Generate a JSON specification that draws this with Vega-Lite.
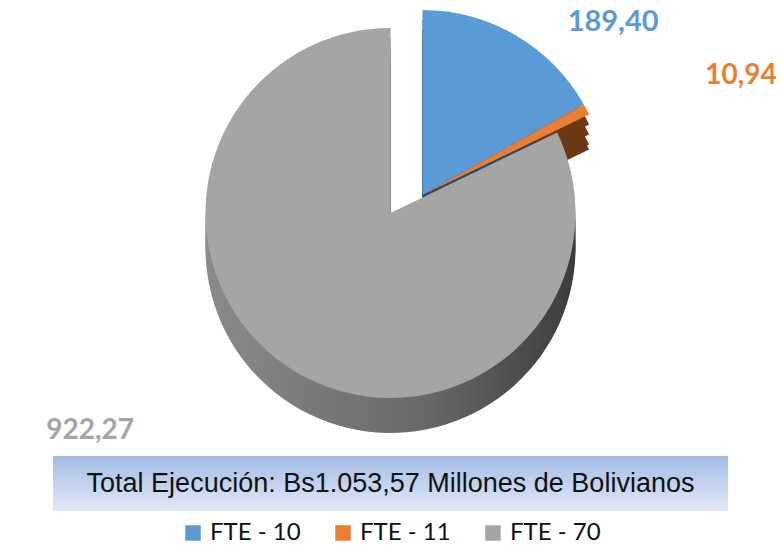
{
  "$schema": "https://vega.github.io/schema/vega-lite/v6.json",
  "padding": 0,
  "spacing": 6,
  "center": true,
  "config": {
    "view": {"stroke": null},
    "locale": {"number": {"decimal": ",", "thousands": ".", "grouping": [3], "currency": ["", ""]}},
    "legend": {"orient": "bottom", "layout": {"bottom": {"anchor": "middle"}}, "labelFont": "Lato", "labelFontSize": 24, "labelColor": "#111111", "symbolType": "square", "symbolSize": 240, "symbolStrokeWidth": 0, "columnPadding": 30, "labelOffset": 5, "offset": 10, "title": null}
  },
  "datasets": {
    "fuentes": [
      {"fuente": "FTE - 10", "valor": 189.40},
      {"fuente": "FTE - 11", "valor": 10.94},
      {"fuente": "FTE - 70", "valor": 922.27}
    ]
  },
  "vconcat": [
    {
      "width": 781,
      "height": 450,
      "data": {"name": "fuentes"},
      "encoding": {
        "theta": {"field": "valor", "type": "quantitative", "stack": true},
        "order": {"field": "fuente", "type": "nominal", "sort": "ascending"}
      },
      "layer": [
        {"mark": {"type": "arc", "radius": 185, "xOffset": 32, "yOffset": 5},
         "encoding": {"fill": {"condition": {"test": "datum.fuente === 'FTE - 10'", "value": "#2b4a6e"}, "value": "#6e3815"},
                      "opacity": {"condition": {"test": "datum.fuente === 'FTE - 70'", "value": 0}, "value": 1}}},
        {"mark": {"type": "arc", "radius": 185, "xOffset": 32, "yOffset": 0},
         "encoding": {"fill": {"condition": {"test": "datum.fuente === 'FTE - 10'", "value": "#2b4a6e"}, "value": "#6e3815"},
                      "opacity": {"condition": {"test": "datum.fuente === 'FTE - 70'", "value": 0}, "value": 1}}},
        {"mark": {"type": "arc", "radius": 185, "xOffset": 32, "yOffset": -10},
         "encoding": {"fill": {"condition": {"test": "datum.fuente === 'FTE - 10'", "value": "#2b4a6e"}, "value": "#6e3815"},
                      "opacity": {"condition": {"test": "datum.fuente === 'FTE - 70'", "value": 0}, "value": 1}}},
        {"mark": {"type": "arc", "radius": 185, "xOffset": 32, "yOffset": -20},
         "encoding": {"fill": {"condition": {"test": "datum.fuente === 'FTE - 10'", "value": "#2b4a6e"}, "value": "#6e3815"},
                      "opacity": {"condition": {"test": "datum.fuente === 'FTE - 70'", "value": 0}, "value": 1}}},
        {"mark": {"type": "arc", "radius": 185, "xOffset": 32, "yOffset": -30},
         "encoding": {
           "color": {"field": "fuente", "type": "nominal", "scale": {"domain": ["FTE - 10", "FTE - 11", "FTE - 70"], "range": ["#5b9bd5", "#ed7d31", "#a5a5a5"]}},
           "opacity": {"condition": {"test": "datum.fuente === 'FTE - 70'", "value": 0}, "value": 1}}},
        {"mark": {"type": "arc", "radius": 185, "yOffset": 23, "fill": {"gradient": "linear", "x1": 0, "y1": 0, "x2": 1, "y2": 0, "stops": [{"offset": 0, "color": "#8a8a8a"}, {"offset": 0.6, "color": "#686868"}, {"offset": 1, "color": "#3c3c3c"}]}},
         "encoding": {"opacity": {"condition": {"test": "datum.fuente === 'FTE - 70'", "value": 1}, "value": 0}}},
        {"mark": {"type": "arc", "radius": 185, "yOffset": 18, "fill": {"gradient": "linear", "x1": 0, "y1": 0, "x2": 1, "y2": 0, "stops": [{"offset": 0, "color": "#8a8a8a"}, {"offset": 0.6, "color": "#686868"}, {"offset": 1, "color": "#3c3c3c"}]}},
         "encoding": {"opacity": {"condition": {"test": "datum.fuente === 'FTE - 70'", "value": 1}, "value": 0}}},
        {"mark": {"type": "arc", "radius": 185, "yOffset": 8, "fill": {"gradient": "linear", "x1": 0, "y1": 0, "x2": 1, "y2": 0, "stops": [{"offset": 0, "color": "#8a8a8a"}, {"offset": 0.6, "color": "#686868"}, {"offset": 1, "color": "#3c3c3c"}]}},
         "encoding": {"opacity": {"condition": {"test": "datum.fuente === 'FTE - 70'", "value": 1}, "value": 0}}},
        {"mark": {"type": "arc", "radius": 185, "yOffset": -2, "fill": {"gradient": "linear", "x1": 0, "y1": 0, "x2": 1, "y2": 0, "stops": [{"offset": 0, "color": "#8a8a8a"}, {"offset": 0.6, "color": "#686868"}, {"offset": 1, "color": "#3c3c3c"}]}},
         "encoding": {"opacity": {"condition": {"test": "datum.fuente === 'FTE - 70'", "value": 1}, "value": 0}}},
        {"mark": {"type": "arc", "radius": 185, "yOffset": -12, "fill": "#a5a5a5"},
         "encoding": {"opacity": {"condition": {"test": "datum.fuente === 'FTE - 70'", "value": 1}, "value": 0}}},
        {"mark": {"type": "text", "radius": 195, "xOffset": 32, "yOffset": -30, "dx": 92, "dy": -5, "fontSize": 29, "fontWeight": "bold", "font": "Lato", "fill": "#5b9bd5"},
         "encoding": {"text": {"field": "valor", "type": "quantitative", "format": ",.2f"},
                      "opacity": {"condition": {"test": "datum.fuente === 'FTE - 10'", "value": 1}, "value": 0}}},
        {"mark": {"type": "text", "radius": 120, "xOffset": 32, "yOffset": -30, "dx": 212, "dy": -64, "fontSize": 28, "fontWeight": "bold", "font": "Lato", "fill": "#ed7d31"},
         "encoding": {"text": {"field": "valor", "type": "quantitative", "format": ",.2f"},
                      "opacity": {"condition": {"test": "datum.fuente === 'FTE - 11'", "value": 1}, "value": 0}}},
        {"mark": {"type": "text", "radius": 200, "yOffset": -12, "dx": -194, "dy": 49, "fontSize": 28, "fontWeight": "bold", "font": "Lato", "fill": "#a5a5a5"},
         "encoding": {"text": {"field": "valor", "type": "quantitative", "format": ",.2f"},
                      "opacity": {"condition": {"test": "datum.fuente === 'FTE - 70'", "value": 1}, "value": 0}}}
      ]
    },
    {
      "width": 675,
      "height": 55,
      "view": {"fill": {"gradient": "linear", "x1": 0, "y1": 0, "x2": 0, "y2": 1, "stops": [{"offset": 0, "color": "#a3bbe5"}, {"offset": 1, "color": "#e2e9f6"}]}, "stroke": null},
      "data": {"values": [{"texto": "Total Ejecución: Bs1.053,57 Millones de Bolivianos"}]},
      "mark": {"type": "text", "font": "Liberation Sans", "fontSize": 27, "color": "#111111"},
      "encoding": {"text": {"field": "texto", "type": "nominal"}}
    }
  ]
}
